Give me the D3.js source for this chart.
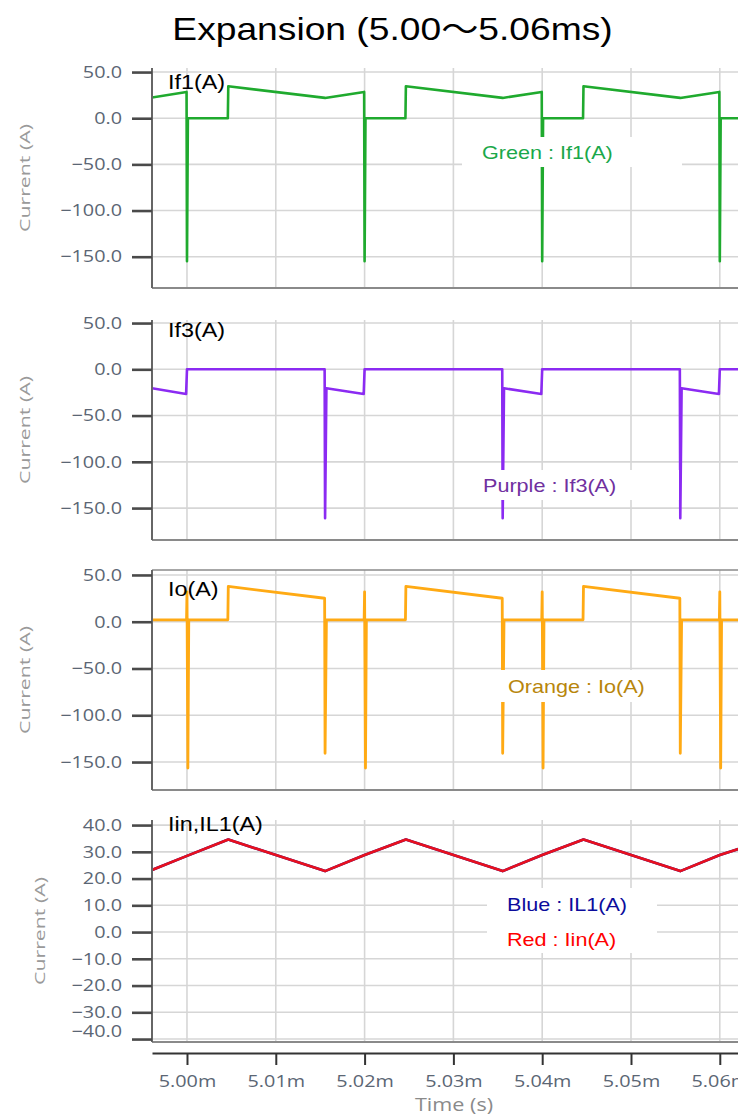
<!DOCTYPE html>
<html><head><meta charset="utf-8">
<script src="https://cdn.jsdelivr.net/npm/d3@7"></script>
<style>body{margin:0;background:#fff;overflow:hidden}svg{display:block}</style>
</head><body>
<svg id="chart" width="738" height="1117"></svg>
<script>
// ---------- DATA ----------
const titleText = "Expansion (5.00～5.06ms)";
const timeTicks = [5.00, 5.01, 5.02, 5.03, 5.04, 5.05, 5.06];
const timeTickLabels = ["5.00m", "5.01m", "5.02m", "5.03m", "5.04m", "5.05m", "5.06m"];
const yTicksSwitch = [50, 0, -50, -100, -150];
const yTicksInput = [40, 30, 20, 10, 0, -10, -20, -30, -40];
const panelLabels = ["If1(A)", "If3(A)", "Io(A)", "Iin,IL1(A)"];
const yAxisTitle = "Current (A)";
const xAxisTitle = "Time (s)";

const if1Time  = [4.99606, 4.99995, 5.00000, 5.00010, 5.00460, 5.00465, 5.01555, 5.01995, 5.02000, 5.02010, 5.02460, 5.02465, 5.03555, 5.03995, 5.04000, 5.04010, 5.04460, 5.04465, 5.05555, 5.05995, 5.06000, 5.06010, 5.06250];
const if1Value = [22.5, 28.5, -155, 0, 0, 34.6, 22.0, 28.5, -155, 0, 0, 34.6, 22.0, 28.5, -155, 0, 0, 34.6, 22.0, 28.5, -155, 0, 0];

const if3Time  = [4.99606, 4.99990, 5.00000, 5.01550, 5.01555, 5.01570, 5.01990, 5.02000, 5.03550, 5.03555, 5.03570, 5.03990, 5.04000, 5.05550, 5.05555, 5.05570, 5.05990, 5.06000, 5.06250];
const if3Value = [-20.5, -26.7, 0, 0, -161, -20.5, -26.7, 0, 0, -161, -20.5, -26.7, 0, 0, -161, -20.5, -26.7, 0, 0];

const ioTime  = [4.99606, 4.99995, 5.00000, 5.00010, 5.00020, 5.00460, 5.00465, 5.01550, 5.01555, 5.01570, 5.01995, 5.02000, 5.02010, 5.02020, 5.02460, 5.02465, 5.03550, 5.03555, 5.03570, 5.03995, 5.04000, 5.04010, 5.04020, 5.04460, 5.04465, 5.05550, 5.05555, 5.05570, 5.05995, 5.06000, 5.06010, 5.06020, 5.06250];
const ioValue = [2, 2, 32, -156.5, 2, 2, 37.7, 25.1, -140.7, 2, 2, 32, -156.5, 2, 2, 37.7, 25.1, -140.7, 2, 2, 32, -156.5, 2, 2, 37.7, 25.1, -140.7, 2, 2, 32, -156.5, 2, 2];

const iinTime  = [4.99606, 5.00000, 5.00465, 5.01555, 5.02000, 5.02465, 5.03555, 5.04000, 5.04465, 5.05555, 5.06000, 5.06250];
const iinValue = [23.2, 28.5, 34.6, 22.8, 28.8, 34.6, 22.8, 28.8, 34.6, 22.8, 28.8, 31.5];
const il1Time  = [4.99606, 5.00000, 5.00465, 5.01555, 5.02000, 5.02465, 5.03555, 5.04000, 5.04465, 5.05555, 5.06000, 5.06250];
const il1Value = [23.2, 28.5, 34.6, 22.8, 28.8, 34.6, 22.8, 28.8, 34.6, 22.8, 28.8, 31.5];

const legendTexts = [["Green : If1(A)"], ["Purple : If3(A)"], ["Orange : Io(A)"], ["Blue : IL1(A)", "Red : Iin(A)"]];

// ---------- LAYOUT ----------
const W = 738, H = 1117;
const plotLeft = 152, plotRight = 738;
const timeDomain = [4.99606, 5.06205];
const SX = 1.2; // horizontal glyph stretch of the reference
const panels = [
  {top: 68,  bottom: 288,  domain: [-183.9, 54.4], ticks: yTicksSwitch, labelY: 89,  yTitleX: 25, topBorder: false,
   series: [{t: if1Time, v: if1Value, color: "#1faa2e", w: 2.6}],
   legend: {x: 462, y: 137, w: 220, h: 30, textX: 482, base: [159], colors: ["#1aa84a"]}},
  {top: 320, bottom: 540,  domain: [-184.5, 53.3], ticks: yTicksSwitch, labelY: 337, yTitleX: 25, topBorder: false,
   series: [{t: if3Time, v: if3Value, color: "#8b2bf2", w: 2.6}],
   legend: {x: 463, y: 470, w: 216, h: 30, textX: 483, base: [492], colors: ["#7030a0"]}},
  {top: 570, bottom: 790,  domain: [-179.9, 55.3], ticks: yTicksSwitch, labelY: 596, yTitleX: 25, topBorder: true,
   series: [{t: ioTime, v: ioValue, color: "#ffaa14", w: 2.8}],
   legend: {x: 500, y: 670, w: 144, h: 32, textX: 508, base: [693], colors: ["#b8860b"]}},
  {top: 820, bottom: 1042, domain: [-41.1, 41.9],  ticks: yTicksInput,  labelY: 831, yTitleX: 40, topBorder: false,
   series: [{t: il1Time, v: il1Value, color: "#1010a0", w: 2.6}, {t: iinTime, v: iinValue, color: "#e8101e", w: 2.6}],
   legend: {x: 487, y: 888, w: 170, h: 65, textX: 507, base: [911, 946], colors: ["#0c0c9c", "#ff0000"]}}
];

const svg = d3.select("#chart");
const x = d3.scaleLinear().domain(timeDomain).range([plotLeft, plotRight]);
const fmt = d3.format(".1f");

function stretch(sel, s) {
  sel.each(function () {
    const t = d3.select(this);
    const tx = +t.attr("x") || 0, ty = +t.attr("y") || 0;
    t.attr("x", 0).attr("y", 0).attr("transform", `translate(${tx},${ty}) scale(${s},1)`);
  });
}

// title
svg.append("text").attr("x", 392.5).attr("y", 40).attr("text-anchor", "middle")
  .style("font-family", "'Liberation Sans', Arial, 'Noto Sans CJK JP', sans-serif").style("font-size", "31px").style("fill", "#000")
  .text(titleText).call(stretch, SX);

panels.forEach((p, i) => {
  const y = d3.scaleLinear().domain(p.domain).range([p.bottom, p.top]);
  const g = svg.append("g");
  // grid
  g.selectAll(".hg").data(p.ticks).join("line")
    .attr("x1", plotLeft).attr("x2", plotRight).attr("y1", d => y(d)).attr("y2", d => y(d))
    .attr("stroke", "#d6d6d6").attr("stroke-width", 1.6);
  g.selectAll(".vg").data(timeTicks).join("line")
    .attr("x1", d => x(d)).attr("x2", d => x(d)).attr("y1", p.top).attr("y2", p.bottom)
    .attr("stroke", "#d6d6d6").attr("stroke-width", 1.6);
  // borders
  g.append("line").attr("x1", plotLeft).attr("x2", plotRight).attr("y1", p.bottom).attr("y2", p.bottom)
    .attr("stroke", "#8a8a8a").attr("stroke-width", 2);
  if (p.topBorder) g.append("line").attr("x1", plotLeft).attr("x2", plotRight).attr("y1", p.top).attr("y2", p.top)
    .attr("stroke", "#8a8a8a").attr("stroke-width", 1.6);
  // clip
  const cid = "clip" + i;
  svg.append("clipPath").attr("id", cid).append("rect")
    .attr("x", plotLeft).attr("y", p.top).attr("width", plotRight - plotLeft).attr("height", p.bottom - p.top);
  // series
  p.series.forEach(s => {
    const pts = s.t.map((t, k) => [t, s.v[k]]);
    g.append("path").attr("clip-path", `url(#${cid})`)
      .attr("d", d3.line().x(d => x(d[0])).y(d => y(d[1]))(pts))
      .attr("fill", "none").attr("stroke", s.color).attr("stroke-width", s.w)
      .attr("stroke-linejoin", "round").attr("stroke-linecap", "butt");
  });
  // y axis
  const ax = g.append("g").attr("transform", `translate(${plotLeft},0)`)
    .call(d3.axisLeft(y).tickValues(p.ticks).tickFormat(fmt).tickSize(20).tickSizeOuter(0).tickPadding(10));
  ax.select(".domain").attr("stroke", "#666").attr("stroke-width", 2)
    .attr("d", `M0,${p.top}V${p.bottom}`);
  ax.selectAll(".tick line").attr("stroke", "#4a4a4a").attr("stroke-width", 2.6);
  ax.selectAll(".tick text").style("font-family", "'Open Sans', sans-serif").style("font-size", "16.5px")
    .style("fill", "#5b6674").call(stretch, SX);
  if (i === 3) ax.selectAll(".tick").filter(d => d === -40).select("text")
    .attr("transform", function () { return d3.select(this).attr("transform").replace("translate(-30,0)", "translate(-30,-8)"); });
  // y title
  g.append("text").attr("text-anchor", "middle").attr("dy", "0.35em")
    .attr("transform", `translate(${p.yTitleX},${(p.top + p.bottom) / 2}) rotate(-90) scale(1.42,1)`)
    .style("font-family", "'Open Sans', sans-serif").style("font-size", "15px").style("fill", "#9a9a9a")
    .text(yAxisTitle);
  // panel label
  g.append("text").attr("x", 168).attr("y", p.labelY)
    .style("font-family", "'Liberation Sans', Arial, sans-serif").style("font-size", "19.5px").style("fill", "#000")
    .text(panelLabels[i]).call(stretch, SX);
  // legend
  const L = p.legend;
  g.append("rect").attr("x", L.x).attr("y", L.y).attr("width", L.w).attr("height", L.h).attr("fill", "#fff");
  legendTexts[i].forEach((txt, k) => {
    g.append("text").attr("x", L.textX).attr("y", L.base[k])
      .style("font-family", "'Liberation Sans', Arial, sans-serif").style("font-size", "18px").style("fill", L.colors[k])
      .text(txt).call(stretch, SX);
  });
});

// x axis
const xa = svg.append("g").attr("transform", "translate(0,1053)")
  .call(d3.axisBottom(x).tickValues(timeTicks).tickFormat((d, k) => timeTickLabels[k]).tickSize(12).tickSizeOuter(0).tickPadding(10));
xa.select(".domain").attr("stroke", "#333").attr("stroke-width", 2);
xa.selectAll(".tick line").attr("stroke", "#333").attr("stroke-width", 2);
xa.selectAll(".tick text").style("font-family", "'Open Sans', sans-serif").style("font-size", "16.5px")
  .style("fill", "#5b6674").call(stretch, SX);
svg.append("text").attr("x", 454).attr("y", 1111).attr("text-anchor", "middle")
  .style("font-family", "'Open Sans', sans-serif").style("font-size", "18px").style("fill", "#8a8a8a")
  .text(xAxisTitle).call(stretch, SX);
</script>
</body></html>
